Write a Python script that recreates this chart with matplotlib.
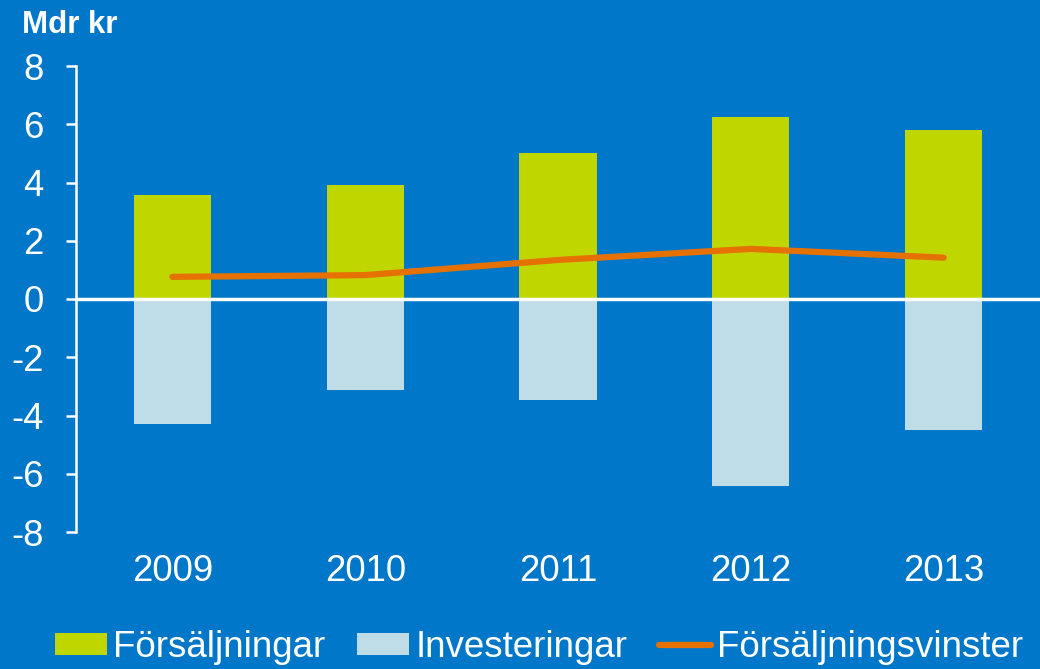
import matplotlib
matplotlib.use("Agg")
import matplotlib.pyplot as plt
from matplotlib.patches import Patch
from matplotlib.lines import Line2D

plt.rcParams['font.family'] = ['Liberation Sans', 'DejaVu Sans']

years = ["2009", "2010", "2011", "2012", "2013"]
forsaljningar = [3.57, 3.92, 5.02, 6.25, 5.81]
investeringar = [-4.30, -3.13, -3.47, -6.43, -4.50]
vinster = [0.76, 0.82, 1.34, 1.72, 1.42]
yticks = [8, 6, 4, 2, 0, -2, -4, -6, -8]

BG = "#0077C8"
GREEN = "#C0D600"
LIGHT = "#BFDDE9"
ORANGE = "#E57200"

fig = plt.figure(figsize=(10.4, 6.69), dpi=100, facecolor=BG)
ax = fig.add_axes([76/1040, 1-532/669, 1-76/1040, (532-66)/669])
ax.set_facecolor(BG)

x = range(len(years))
ax.bar(x, forsaljningar, width=0.40, color=GREEN, zorder=2)
ax.bar(x, investeringar, width=0.40, color=LIGHT, zorder=2)
ax.axhline(0, color="white", lw=2.5, zorder=3)
ax.plot(x, vinster, color=ORANGE, lw=4.5, solid_capstyle="round", zorder=4)

ax.set_xlim(-0.5, 4.5)
ax.set_ylim(-8, 8)
ax.set_yticks(yticks)
ax.set_yticklabels([str(t) for t in yticks])
ax.set_xticks(list(x))
ax.set_xticklabels(years)

for s in ["top", "right", "bottom"]:
    ax.spines[s].set_visible(False)
ax.spines["left"].set_color("white")
ax.spines["left"].set_linewidth(1.8)
ax.tick_params(axis="y", colors="white", length=7.2, width=1.8, pad=16, labelsize=26.3)
ax.tick_params(axis="x", colors="white", length=0, pad=16, labelsize=26.3)

fig.text(22/1040, 1-33/669, "Mdr kr", color="white", fontsize=22.5, fontweight="bold",
         ha="left", va="baseline")

handles = [Patch(facecolor=GREEN, edgecolor="none"),
           Patch(facecolor=LIGHT, edgecolor="none"),
           Line2D([0], [0], color=ORANGE, lw=4.5, solid_capstyle="round")]
labels = ["Försäljningar", "Investeringar", "Försäljningsvinster"]
leg = fig.legend(handles, labels, loc="lower left", bbox_to_anchor=(48/1040, -0.005),
                 ncol=3, frameon=False, fontsize=26.5, handlelength=1.41, handleheight=0.55,
                 handletextpad=0.16, columnspacing=0.87, borderpad=0.2, borderaxespad=0)
for t in leg.get_texts():
    t.set_color("white")

fig.savefig("out.png", dpi=100, facecolor=BG)
